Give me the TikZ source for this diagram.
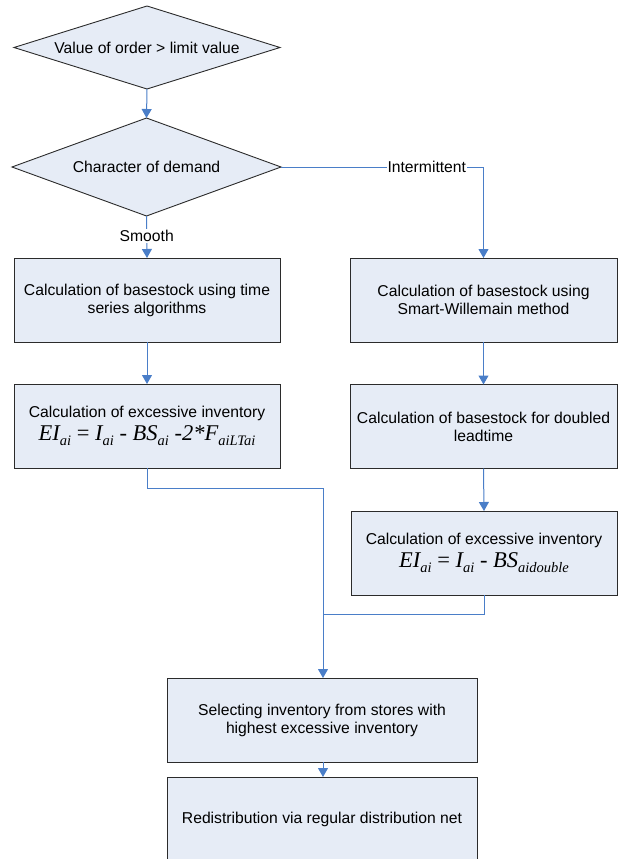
\documentclass[tikz,border=0pt]{standalone}
\usepackage{fontspec}
\setmainfont{Liberation Sans}
\newfontfamily\formfont{Liberation Serif}
\usetikzlibrary{arrows.meta,shapes.geometric}
\definecolor{boxfill}{HTML}{E6ECF6}
\definecolor{linkblue}{HTML}{4A7EC8}
\definecolor{edgegray}{HTML}{2B2B2B}
\newcommand\fsub[1]{\raisebox{-0.22em}{\fontsize{14.5}{14.5}\selectfont #1}}
\newcommand\formtext[1]{{\formfont\itshape\fontsize{22.5}{24}\selectfont #1}}
\tikzset{
  procbox/.style={draw=edgegray, fill=boxfill, line width=0.9pt, inner sep=0pt, outer sep=0pt,
    align=center, font=\fontsize{15.7}{18}\selectfont},
  decbox/.style={draw=edgegray, fill=boxfill, line width=0.9pt, diamond, inner sep=0pt, outer sep=0pt},
  link/.style={draw=linkblue, line width=1pt},
  linkarrow/.style={link, -{Triangle[width=10pt,length=9pt]}},
  lbl/.style={fill=white, inner sep=1pt, font=\fontsize{15.7}{18}\selectfont}
}
\begin{document}
\begin{tikzpicture}[x=1pt,y=-1pt]
\useasboundingbox (0,0) rectangle (618,859);
\clip (0,0) rectangle (618,859);
\node[decbox, minimum width=266pt, minimum height=83pt,
  label={[font=\fontsize{15.7}{18}\selectfont]center:Value of order > limit value}] (d1) at (147,47.5) {};
\node[decbox, minimum width=269pt, minimum height=98pt,
  label={[font=\fontsize{15.7}{18}\selectfont]center:Character of demand}] (d2) at (146.5,167) {};
\node[procbox, minimum width=266pt, minimum height=84pt] (l1) at (147,300)
  {Calculation of basestock using time\\series algorithms};
\node[procbox, minimum width=267pt, minimum height=84pt] (r1) at (483.5,300)
  {Calculation of basestock using\\Smart-Willemain method};
\node[procbox, minimum width=266pt, minimum height=84pt] (l2) at (147,426)
  {Calculation of excessive inventory\\[3.5pt]\formtext{EI\fsub{ai} {\upshape =} I\fsub{ai} {\upshape -} BS\fsub{ai} {\upshape -}2*F\fsub{aiLTai}}};
\node[procbox, minimum width=267pt, minimum height=84pt] (r2) at (483.5,426.5)
  {Calculation of basestock for doubled\\leadtime};
\node[procbox, minimum width=266pt, minimum height=84pt] (r3) at (484,553)
  {Calculation of excessive inventory\\[3.5pt]\formtext{EI\fsub{ai} {\upshape =} I\fsub{ai} {\upshape -} BS\fsub{aidouble}}};
\node[procbox, minimum width=310pt, minimum height=84pt] (s) at (322,720)
  {Selecting inventory from stores with\\highest excessive inventory};
\node[procbox, minimum width=310pt, minimum height=85pt] (dd) at (322,819.5)
  {Redistribution via regular distribution net};
\coordinate (m1) at (323,488);
\coordinate (m2) at (323,614);
\draw[linkarrow] (d1.south) -- (d2.north);
\draw[linkarrow] (d2.east) -| node[lbl, pos=0.36] {Intermittent} (r1.north);
\draw[linkarrow] (d2.south) -- node[lbl, pos=0.47] {Smooth} (l1.north);
\draw[linkarrow] (l1.south) -- (l2.north);
\draw[linkarrow] (r1.south) -- (r2.north);
\draw[linkarrow] (r2.south) -- (r3.north);
\draw[link] (l2.south) |- (m1);
\draw[linkarrow] (m1) -- (s.north -| m1);
\draw[link] (r3.south) |- (m2);
\draw[linkarrow] (s.south -| m1) -- (dd.north -| m1);
\end{tikzpicture}
\end{document}
